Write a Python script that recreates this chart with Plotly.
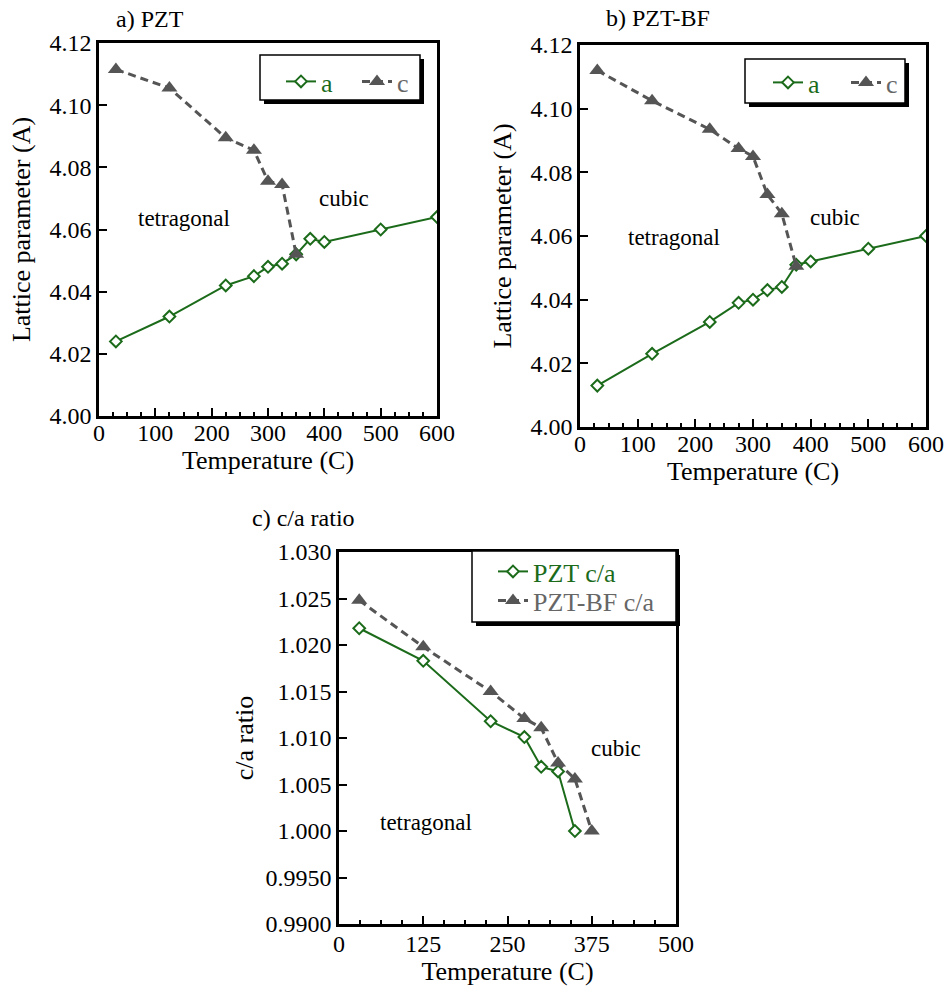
import plotly.graph_objects as go

# ---------------- data ----------------
# a) PZT
pzt_T_a = [30, 125, 225, 275, 300, 325, 350, 375, 400, 500, 600]
pzt_a = [4.024, 4.032, 4.042, 4.045, 4.048, 4.049, 4.052, 4.057, 4.056, 4.060, 4.064]
pzt_T_c = [30, 125, 225, 275, 300, 325, 350]
pzt_c = [4.1115, 4.1055, 4.0895, 4.0855, 4.0755, 4.0745, 4.052]

# b) PZT-BF
bf_T_a = [30, 125, 225, 275, 300, 325, 350, 375, 400, 500, 600]
bf_a = [4.013, 4.023, 4.033, 4.039, 4.040, 4.043, 4.044, 4.051, 4.052, 4.056, 4.060]
bf_T_c = [30, 125, 225, 275, 300, 325, 350, 375]
bf_c = [4.112, 4.1025, 4.0935, 4.0875, 4.085, 4.073, 4.067, 4.0505]

# c) c/a ratio
ratio_T_pzt = [30, 125, 225, 275, 300, 325, 350]
ratio_pzt = [1.0218, 1.0183, 1.0118, 1.0101, 1.0069, 1.0064, 1.0000]
ratio_T_bf = [30, 125, 225, 275, 300, 325, 350, 375]
ratio_bf = [1.0248, 1.0198, 1.0150, 1.0121, 1.0111, 1.0073, 1.0056, 1.0000]

lat_ticks = [4.00, 4.02, 4.04, 4.06, 4.08, 4.10, 4.12]
ratio_ticks = [0.990, 0.995, 1.000, 1.005, 1.010, 1.015, 1.020, 1.025, 1.030]
ratio_ticktext = ["0.9900", "0.9950", "1.000", "1.005", "1.010", "1.015", "1.020", "1.025", "1.030"]

# ---------------- style ----------------
W, H = 949, 992
FONT = "Liberation Serif, Times New Roman, serif"
GREEN = "#1b6b1b"
GRAY = "#555555"
GRAY_TXT = "#666666"


def px_x(x):
    return x / W


def px_y(y):
    return 1 - y / H


def a_style(name, legend, xa, ya):
    return dict(
        mode="lines+markers", name=name, legend=legend, xaxis=xa, yaxis=ya,
        line=dict(color=GREEN, width=2),
        marker=dict(symbol="diamond", size=9, color="white",
                    line=dict(color=GREEN, width=2)),
    )


def c_style(name, legend, xa, ya):
    return dict(
        mode="lines+markers", name=name, legend=legend, xaxis=xa, yaxis=ya,
        line=dict(color=GRAY, width=3, dash="8px,5px"),
        marker=dict(symbol="triangle-up", size=14, color=GRAY,
                    line=dict(width=0)),
    )


def green(t):
    return f'<span style="color:{GREEN}">{t}</span>'


def gray(t):
    return f'<span style="color:{GRAY_TXT}">{t}</span>'


fig = go.Figure()

# panel a
fig.add_trace(go.Scatter(x=pzt_T_a, y=pzt_a, **a_style(green("a"), "legend", "x", "y")))
fig.add_trace(go.Scatter(x=pzt_T_c, y=pzt_c, **c_style(gray("c"), "legend2", "x", "y")))
# panel b
fig.add_trace(go.Scatter(x=bf_T_a, y=bf_a, **a_style(green("a"), "legend3", "x2", "y2")))
fig.add_trace(go.Scatter(x=bf_T_c, y=bf_c, **c_style(gray("c"), "legend4", "x2", "y2")))
# panel c
fig.add_trace(go.Scatter(x=ratio_T_pzt, y=ratio_pzt, **a_style(green("PZT c/a"), "legend5", "x3", "y3")))
fig.add_trace(go.Scatter(x=ratio_T_bf, y=ratio_bf, **c_style(gray("PZT-BF c/a"), "legend6", "x3", "y3")))

axis_common = dict(
    showline=True, linecolor="black", linewidth=2.5, mirror=True,
    ticks="inside", tickcolor="black", tickwidth=1.5, ticklen=8,
    showgrid=False, zeroline=False, automargin=False,
    tickfont=dict(family=FONT, size=24, color="black"),
    title_font=dict(family=FONT, size=26, color="black"),
)
minor_common = dict(ticks="inside", ticklen=4, tickcolor="black", tickwidth=1.5)

# pixel boxes of the three plotting areas
box_a = (99, 43, 437, 416)
box_b = (580, 45, 926, 427)
box_c = (339, 552, 676, 924)


def dom(box):
    l, t, r, b = box
    return [px_x(l), px_x(r)], [px_y(b), px_y(t)]


dxa, dya = dom(box_a)
dxb, dyb = dom(box_b)
dxc, dyc = dom(box_c)

xtitle = dict(text="Temperature (C)", standoff=6)

fig.update_layout(
    width=W, height=H, margin=dict(l=0, r=0, t=0, b=0, autoexpand=False),
    paper_bgcolor="white", plot_bgcolor="white",
    font=dict(family=FONT, color="black"),
    xaxis=dict(domain=dxa, anchor="y", range=[0, 600], dtick=100, ticklabelstandoff=-7,
               minor=dict(dtick=25, **minor_common), title=xtitle, **axis_common),
    yaxis=dict(domain=dya, anchor="x", range=[4.00, 4.12], tickvals=lat_ticks, tickformat=".2f",
               title=dict(text="Lattice parameter (A)", standoff=12), **axis_common),
    xaxis2=dict(domain=dxb, anchor="y2", range=[0, 600], dtick=100, ticklabelstandoff=-7,
                minor=dict(dtick=25, **minor_common), title=xtitle, **axis_common),
    yaxis2=dict(domain=dyb, anchor="x2", range=[4.00, 4.12], tickvals=lat_ticks, tickformat=".2f",
                title=dict(text="Lattice parameter (A)", standoff=12), **axis_common),
    xaxis3=dict(domain=dxc, anchor="y3", range=[0, 500], tickvals=[0, 125, 250, 375, 500],
                ticklabelstandoff=-4,
                minor=dict(tickvals=[31.25 * k for k in range(17)], **minor_common),
                title=xtitle, **axis_common),
    yaxis3=dict(domain=dyc, anchor="x3", range=[0.990, 1.030], tickvals=ratio_ticks,
                ticktext=ratio_ticktext,
                title=dict(text="c/a ratio", standoff=5), **axis_common),
    showlegend=True,
)

# one legend per entry so each sample sits where it belongs inside its frame
legend_common = dict(
    bgcolor="rgba(0,0,0,0)", borderwidth=0, orientation="v",
    font=dict(family=FONT, size=26, color="black"),
    xanchor="left", yanchor="top",
)
fig.update_layout(
    legend=dict(x=px_x(281), y=px_y(58), **legend_common),
    legend2=dict(x=px_x(357), y=px_y(58), **legend_common),
    legend3=dict(x=px_x(768), y=px_y(59), **legend_common),
    legend4=dict(x=px_x(846), y=px_y(59), **legend_common),
    legend5=dict(x=px_x(493), y=px_y(548), **legend_common),
    legend6=dict(x=px_x(493), y=px_y(577), **legend_common),
)

# legend frames with drop shadows
for (l, t, r, b) in [(260, 55, 420, 100), (745, 59, 905, 103), (472, 551, 676, 622)]:
    fig.add_shape(type="rect", xref="paper", yref="paper",
                  x0=px_x(l + 4), x1=px_x(r + 4), y0=px_y(b + 4), y1=px_y(t + 4),
                  fillcolor="black", line=dict(width=0), layer="above")
    fig.add_shape(type="rect", xref="paper", yref="paper",
                  x0=px_x(l), x1=px_x(r), y0=px_y(b), y1=px_y(t),
                  fillcolor="white", line=dict(color="black", width=1.5), layer="above")

ann_font = dict(family=FONT, size=23, color="black")
for xr, yr, xx, yy, txt in [
    ("x", "y", 150, 4.0637, "tetragonal"),
    ("x", "y", 435, 4.070, "cubic"),
    ("x2", "y2", 163, 4.0594, "tetragonal"),
    ("x2", "y2", 442, 4.0657, "cubic"),
    ("x3", "y3", 129, 1.0009, "tetragonal"),
    ("x3", "y3", 411, 1.0089, "cubic"),
]:
    fig.add_annotation(x=xx, y=yy, xref=xr, yref=yr, text=txt, showarrow=False, font=ann_font)

title_font = dict(family=FONT, size=24, color="black")
for cx, cy, txt in [(150, 19, "a) PZT"), (658, 18, "b) PZT-BF"), (303, 518, "c) c/a ratio")]:
    fig.add_annotation(x=px_x(cx), y=px_y(cy), xref="paper", yref="paper", text=txt,
                       showarrow=False, font=title_font, xanchor="center", yanchor="middle")

fig.write_html("out.html")
